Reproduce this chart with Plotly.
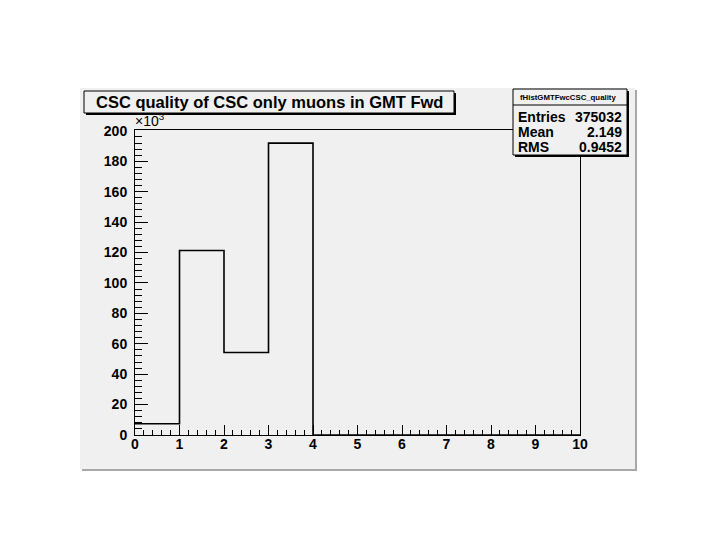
import plotly.graph_objects as go

# ---- data ----
bin_edges = [0, 1, 2, 3, 4, 5, 6, 7, 8, 9, 10]
bin_counts = [7400, 121300, 54300, 192000, 0, 0, 0, 0, 0, 0]   # entries per bin
x_ticks = [0, 1, 2, 3, 4, 5, 6, 7, 8, 9, 10]
y_ticks = [0, 20, 40, 60, 80, 100, 120, 140, 160, 180, 200]   # in units of 10^3
title_text = "CSC quality of CSC only muons in GMT Fwd"
stats_name = "fHistGMTFwcCSC_quality"
stats_labels = ["Entries", "Mean", "RMS"]
stats_values = ["375032", "2.149", "0.9452"]

OFF = 8  # default page body margin
W, H = 720 - OFF, 540 - OFF
L, R, T, B = 135, 580, 130, 435   # plot area in page pixels
BG = "#f0f0f0"
FONT = "Liberation Sans, Arial, Helvetica, sans-serif"


def px(x):
    return (x - L) / (R - L)


def py(y):
    return (B - y) / (B - T)


y_scaled = [c / 1000.0 for c in bin_counts]
step_x = bin_edges
step_y = y_scaled + [y_scaled[-1]]

fig = go.Figure()
fig.add_trace(go.Scatter(
    x=step_x, y=step_y, mode="lines", line_shape="hv",
    line=dict(color="black", width=1.6), hoverinfo="skip", showlegend=False,
))

shapes = []
# canvas (gray) with shadow
shapes.append(dict(type="rect", xref="paper", yref="paper",
                   x0=px(82), x1=px(637), y0=py(90), y1=py(471),
                   fillcolor="#a8a8a8", line=dict(width=0), layer="below"))
shapes.append(dict(type="rect", xref="paper", yref="paper",
                   x0=px(80), x1=px(635), y0=py(88), y1=py(469),
                   fillcolor=BG, line=dict(width=0), layer="below"))
# title box with shadow
shapes.append(dict(type="rect", xref="paper", yref="paper",
                   x0=px(86), x1=px(456), y0=py(93), y1=py(115),
                   fillcolor="black", line=dict(width=0), layer="above"))
shapes.append(dict(type="rect", xref="paper", yref="paper",
                   x0=px(84), x1=px(454), y0=py(91), y1=py(113),
                   fillcolor=BG, line=dict(color="black", width=1), layer="above"))
# stats box with shadow
shapes.append(dict(type="rect", xref="paper", yref="paper",
                   x0=px(515), x1=px(629), y0=py(91), y1=py(157),
                   fillcolor="black", line=dict(width=0), layer="above"))
shapes.append(dict(type="rect", xref="paper", yref="paper",
                   x0=px(513), x1=px(627), y0=py(89), y1=py(155),
                   fillcolor=BG, line=dict(color="black", width=1), layer="above"))
shapes.append(dict(type="line", xref="paper", yref="paper",
                   x0=px(513), x1=px(627), y0=py(105), y1=py(105),
                   line=dict(color="black", width=1), layer="above"))

annotations = []
annotations.append(dict(xref="paper", yref="paper", x=px(269), y=py(102),
                        text="<b>%s</b>" % title_text, showarrow=False,
                        xanchor="center", yanchor="middle",
                        font=dict(family=FONT, size=16.5, color="black")))
annotations.append(dict(xref="paper", yref="paper", x=px(568), y=py(97),
                        text="<b>%s</b>" % stats_name, showarrow=False,
                        xanchor="center", yanchor="middle",
                        font=dict(family=FONT, size=7.8, color="black")))
rows_y = [117, 132, 147]
for lab, val, yy in zip(stats_labels, stats_values, rows_y):
    annotations.append(dict(xref="paper", yref="paper", x=px(516), y=py(yy),
                            text="<b>%s</b>" % lab, showarrow=False,
                            xanchor="left", yanchor="middle",
                            font=dict(family=FONT, size=14, color="black")))
    annotations.append(dict(xref="paper", yref="paper", x=px(624), y=py(yy),
                            text="<b>%s</b>" % val, showarrow=False,
                            xanchor="right", yanchor="middle",
                            font=dict(family=FONT, size=14, color="black")))
annotations.append(dict(xref="paper", yref="paper", x=px(133), y=py(120),
                        text="×10<sup>3</sup>", showarrow=False,
                        xanchor="left", yanchor="middle",
                        font=dict(family=FONT, size=14, color="black")))

fig.update_layout(
    width=W, height=H,
    margin=dict(l=L - OFF, r=W - (R - OFF), t=T - OFF, b=H - (B - OFF), pad=0),
    paper_bgcolor="white", plot_bgcolor=BG,
    shapes=shapes, annotations=annotations,
    xaxis=dict(range=[0, 10], tickvals=x_ticks, ticktext=[str(v) for v in x_ticks],
               ticks="inside", ticklen=10, tickcolor="black", tickwidth=1,
               minor=dict(dtick=0.2, tick0=0, ticks="inside", ticklen=5,
                          tickcolor="black", tickwidth=1),
               showline=True, linecolor="black", linewidth=1, mirror=True,
               showgrid=False, zeroline=False, ticklabelstandoff=-4,
               tickfont=dict(family=FONT, size=14, color="black", weight="bold")),
    yaxis=dict(range=[0, 200.6], tickvals=y_ticks, ticktext=[str(v) for v in y_ticks],
               ticks="inside", ticklen=13, tickcolor="black", tickwidth=1,
               minor=dict(dtick=4, tick0=0, ticks="inside", ticklen=7,
                          tickcolor="black", tickwidth=1),
               showline=True, linecolor="black", linewidth=1, mirror=True,
               showgrid=False, zeroline=False, ticklabelstandoff=4,
               tickfont=dict(family=FONT, size=14, color="black", weight="bold")),
)

fig.write_html("out.html")
